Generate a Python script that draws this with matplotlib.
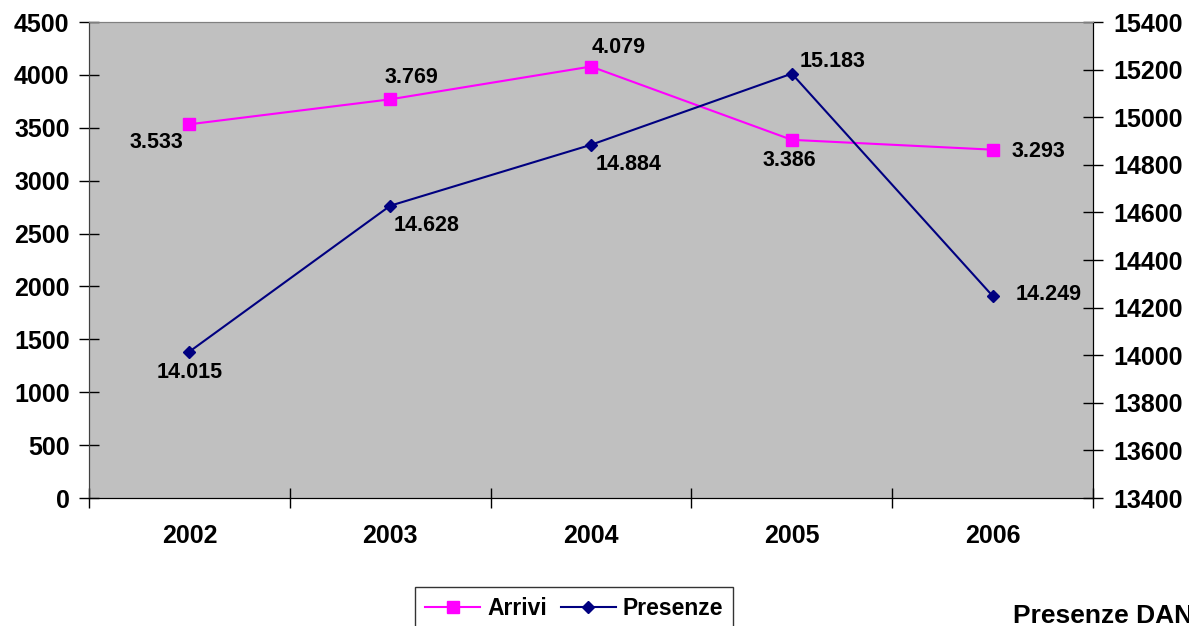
import matplotlib
matplotlib.use("Agg")
import matplotlib.pyplot as plt
from matplotlib.ticker import FixedLocator, NullFormatter

plt.rcParams['font.family'] = ['Liberation Sans', 'DejaVu Sans']
plt.rcParams['font.weight'] = 'bold'

# data
years = ['2002', '2003', '2004', '2005', '2006']
arrivi = [3533, 3769, 4079, 3386, 3293]
presenze = [14015, 14628, 14884, 15183, 14249]
arrivi_labels = ['3.533', '3.769', '4.079', '3.386', '3.293']
presenze_labels = ['14.015', '14.628', '14.884', '15.183', '14.249']

W, H = 1189, 626
fig = plt.figure(figsize=(W / 100, H / 100), dpi=100)
ax = fig.add_axes([89 / W, (H - 498) / H, (1093 - 89) / W, (498 - 22) / H])
ax2 = ax.twinx()

x = list(range(len(years)))
ax.set_facecolor('#C0C0C0')
ax.set_xlim(-0.5, len(years) - 0.5)
ax.set_ylim(0, 4500)
ax.set_yticks(range(0, 4501, 500))
ax2.set_ylim(13400, 15400)
ax2.set_yticks(range(13400, 15401, 200))

# category ticks sit between the years
ax.set_xticks(x)
ax.set_xticklabels(years)
ax.tick_params(axis='x', which='major', length=0, pad=19, labelsize=18)
ax.xaxis.set_minor_locator(FixedLocator([i - 0.5 for i in range(len(years) + 1)]))
ax.xaxis.set_minor_formatter(NullFormatter())
ax.tick_params(axis='x', which='minor', direction='inout', length=14, width=1)
ax.tick_params(axis='y', direction='inout', length=14, width=1, labelsize=18, pad=7)
ax2.tick_params(axis='y', direction='inout', length=14, width=1, labelsize=18, pad=8)

for a in (ax, ax2):
    a.spines['top'].set_color('#808080')
    a.spines['left'].set_color('#404040')
    a.spines['right'].set_color('black')
    a.spines['bottom'].set_color('black')

l1, = ax.plot(x, arrivi, color='#FF00FF', lw=1.5, marker='s', ms=8, label='Arrivi')
l2, = ax2.plot(x, presenze, color='#000080', lw=1.5, marker='D', ms=6.5, label='Presenze')

# label offsets in points
arr_off = [(-24, -13), (15, 16), (20, 14), (-2, -15), (33, -1)]
pres_off = [(0, -15), (26, -14), (27, -14), (29, 9), (40, 1)]
for i in x:
    ax.annotate(arrivi_labels[i], (x[i], arrivi[i]), xytext=arr_off[i],
                textcoords='offset points', ha='center', va='center',
                fontsize=15.5, fontweight='bold')
    ax2.annotate(presenze_labels[i], (x[i], presenze[i]), xytext=pres_off[i],
                 textcoords='offset points', ha='center', va='center',
                 fontsize=15.5, fontweight='bold')

leg = fig.legend([l1, l2], ['Arrivi', 'Presenze'], loc='upper left',
                 bbox_to_anchor=(415 / W, 1 - 587 / H), ncol=2, fontsize=16.5,
                 frameon=True, fancybox=False, edgecolor='black',
                 handlelength=2.4, handletextpad=0.3, columnspacing=0.6,
                 borderpad=0.45, borderaxespad=0)
leg.get_frame().set_linewidth(1)

fig.text(1013 / W, 3 / H, 'Presenze DAN', fontsize=19, fontweight='bold',
         ha='left', va='baseline')

fig.savefig('out.png', dpi=100)
